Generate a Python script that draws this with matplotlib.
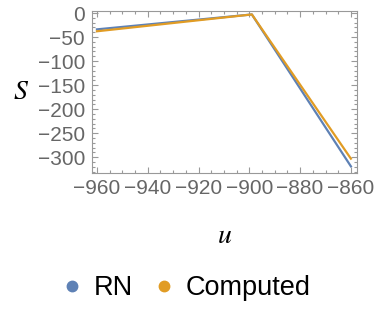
import numpy as np
import matplotlib.pyplot as plt
from matplotlib.ticker import MultipleLocator
from matplotlib.lines import Line2D

# data
u_rn = [-960, -899, -860]
s_rn = [-34, -3, -319]
u_comp = [-960, -899, -860]
s_comp = [-38, -3, -303]

blue = '#5E81B5'
orange = '#E19C24'
gray = '#666666'

plt.rcParams['font.family'] = ['Liberation Sans', 'DejaVu Sans']
plt.rcParams['mathtext.fontset'] = 'stix'

fig = plt.figure(figsize=(3.75, 3.17), dpi=100)
ax = fig.add_axes([0.245, 0.454, 0.707, 0.511])

ax.plot(u_rn, s_rn, color=blue, lw=1.6)
ax.plot(u_comp, s_comp, color=orange, lw=1.6)

ax.set_xlim(-962, -857.6)
ax.set_ylim(-333, 4)

ax.xaxis.set_major_locator(MultipleLocator(20))
ax.xaxis.set_minor_locator(MultipleLocator(5))
ax.yaxis.set_major_locator(MultipleLocator(50))
ax.yaxis.set_minor_locator(MultipleLocator(10))

ax.tick_params(which='both', direction='in', top=True, right=True,
               color='#999999', width=0.8, labelcolor=gray, labelsize=15)
ax.tick_params(axis='x', pad=4)
ax.tick_params(axis='y', pad=5)
ax.tick_params(which='major', length=4)
ax.tick_params(which='minor', length=2)
for sp in ax.spines.values():
    sp.set_color('#999999')
    sp.set_linewidth(0.8)

ax.set_xlabel('$u$', fontsize=20, labelpad=18)
ax.set_ylabel('$S$', fontsize=20, rotation=0, labelpad=12, va='center')

handles = [Line2D([], [], marker='o', ls='', color=blue, markersize=7.5),
           Line2D([], [], marker='o', ls='', color=orange, markersize=7.5)]
fig.legend(handles, ['RN', 'Computed'], loc='center', bbox_to_anchor=(0.5, 0.09),
           ncol=2, frameon=False, fontsize=19.5, handlelength=0.6,
           handletextpad=0.5, columnspacing=0.85)

fig.savefig('out.png', dpi=100)
